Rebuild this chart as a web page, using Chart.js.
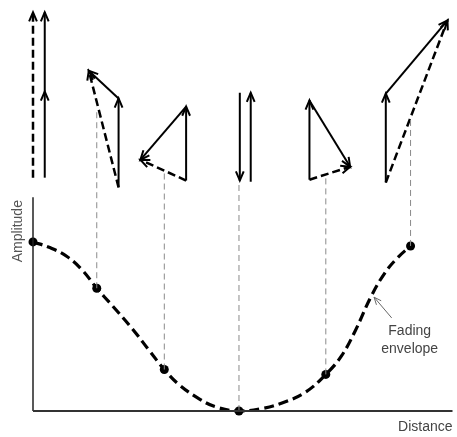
<!DOCTYPE html>
<html>
<head>
<meta charset="utf-8">
<script src="https://cdn.jsdelivr.net/npm/chart.js@4/dist/chart.umd.min.js"></script>
<style>
  html, body { margin: 0; padding: 0; background: #fff; }
  canvas { display: block; }
</style>
</head>
<body>
<canvas id="c" width="457" height="437"></canvas>
<script>
// ---- Fading envelope (distance vs amplitude, arbitrary units) ----
const curveX = [0, 4.0, 8.1, 11.8, 15.2, 19.0, 23.7, 27.7, 31.3, 34.8, 39.6, 43.6, 49.1, 54.5, 59.2, 64.9, 69.8, 73.5, 76.8, 80.6, 83.9, 87.0, 90.0];
const curveY = [41.6, 40.2, 38.0, 34.6, 30.2, 25.8, 20.2, 14.9, 10.2, 6.5, 3.0, 1.0, 0, 0.6, 1.9, 4.6, 9.0, 13.5, 19.7, 28.2, 34.0, 37.8, 40.6];

// ---- Sample points on the envelope ----
const pointX = [0, 15.2, 31.3, 49.1, 69.8, 90.0];
const pointY = [41.6, 30.2, 10.2, 0, 9.0, 40.6];
const dropTop = [null, 74.0, 58.6, 56.7, 57.5, 72.0];

// ---- Phasor diagrams (one per sample point) ----
const firstX      = [2.8, 20.4, 36.5, 51.9, 65.9, 84.1];
const firstBaseY  = [57.4, 55.0, 56.7, 56.4, 56.9, 56.2];
const firstTipY   = [78.6, 76.9, 74.9, 78.3, 76.4, 78.1];
const secondStartX = [2.8, 20.4, 36.5, 49.3, 65.9, 84.1];
const secondTipX  = [2.8, 13.3, 25.6, 49.3, 75.6, 98.8];
const secondTipY  = [98.1, 83.7, 61.8, 56.7, 60.1, 96.1];
const resultStartX = [0, 20.4, 36.5, null, 65.9, 84.1];
const resultTipX   = [0, 13.3, 25.6, null, 75.6, 98.8];

// ---- Axes extent ----
const axisMaxX = 100;
const axisMaxY = 52.6;

// ---- Text ----
const xTitle = 'Distance';
const yTitle = 'Amplitude';
const noteLines = ['Fading', 'envelope'];
const notePos = [89.8, 19.7];
const noteArrowFrom = [85.5, 22.9];
const noteArrowTo = [81.3, 28.0];

const datasets = [];
// axes as lines
datasets.push({ data: [{x:0,y:0},{x:axisMaxX,y:0}], showLine:true, borderColor:'#333', borderWidth:2, pointRadius:0 });
datasets.push({ data: [{x:0,y:0},{x:0,y:axisMaxY}], showLine:true, borderColor:'#222', borderWidth:1.5, pointRadius:0 });
// drop lines
pointX.forEach((px, i) => {
  if (dropTop[i] === null) return;
  datasets.push({ data: [{x:px,y:pointY[i]},{x:px,y:dropTop[i]}], showLine:true, borderColor:'#8a8a8a', borderWidth:1, borderDash:[6,4], pointRadius:0 });
});
// envelope curve
datasets.push({ data: curveX.map((x,i)=>({x, y:curveY[i]})), showLine:true, borderColor:'#000', borderWidth:3.2, borderDash:[10,5], pointRadius:0, tension:0.4 });
// sample points
datasets.push({ data: pointX.map((x,i)=>({x, y:pointY[i]})), showLine:false, pointRadius:4.5, pointBackgroundColor:'#000', pointBorderColor:'#000', pointBorderWidth:0 });
// phasors
firstX.forEach((fx, i) => {
  datasets.push({ arrow:true, data: [{x:fx,y:firstBaseY[i]},{x:fx,y:firstTipY[i]}], showLine:true, borderColor:'#000', borderWidth:2, pointRadius:0 });
  datasets.push({ arrow:true, data: [{x:secondStartX[i],y:firstTipY[i]},{x:secondTipX[i],y:secondTipY[i]}], showLine:true, borderColor:'#000', borderWidth:2, pointRadius:0 });
  if (resultStartX[i] !== null) {
    datasets.push({ arrow:true, data: [{x:resultStartX[i],y:firstBaseY[i]},{x:resultTipX[i],y:secondTipY[i]}], showLine:true, borderColor:'#000', borderWidth:2.5, borderDash:[8,4], pointRadius:0 });
  }
});
// annotation arrow
datasets.push({ arrow:true, arrowColor:'#666', arrowWidth:1, data: [{x:noteArrowFrom[0],y:noteArrowFrom[1]},{x:noteArrowTo[0],y:noteArrowTo[1]}], showLine:true, borderColor:'#666', borderWidth:1, pointRadius:0 });

datasets.forEach(d => { d.clip = false; });

const arrowPlugin = {
  id: 'arrows',
  afterDatasetsDraw(chart) {
    const ctx = chart.ctx;
    chart.data.datasets.forEach((ds, i) => {
      if (!ds.arrow) return;
      const pts = chart.getDatasetMeta(i).data;
      const a = pts[pts.length - 2], b = pts[pts.length - 1];
      const ang = Math.atan2(b.y - a.y, b.x - a.x);
      const len = ds.arrowWidth ? 8 : 10, spread = 0.4;
      ctx.save();
      ctx.strokeStyle = ds.arrowColor || '#000';
      ctx.lineWidth = ds.arrowWidth || 2;
      ctx.setLineDash([]);
      ctx.beginPath();
      ctx.moveTo(b.x - len * Math.cos(ang - spread), b.y - len * Math.sin(ang - spread));
      ctx.lineTo(b.x, b.y);
      ctx.lineTo(b.x - len * Math.cos(ang + spread), b.y - len * Math.sin(ang + spread));
      ctx.stroke();
      ctx.restore();
    });
  }
};

const textPlugin = {
  id: 'texts',
  afterDraw(chart) {
    const ctx = chart.ctx, xs = chart.scales.x, ys = chart.scales.y;
    ctx.save();
    ctx.font = '14px "Liberation Sans", Arial, sans-serif';
    ctx.fillStyle = '#444';
    // x title
    ctx.textAlign = 'right';
    ctx.textBaseline = 'middle';
    ctx.fillText(xTitle, xs.getPixelForValue(axisMaxX), ys.getPixelForValue(0) + 16);
    // y title
    ctx.save();
    ctx.translate(xs.getPixelForValue(0) - 15, ys.getPixelForValue(axisMaxY) + 34);
    ctx.rotate(-Math.PI / 2);
    ctx.textAlign = 'center';
    ctx.fillStyle = '#555';
    ctx.fillText(yTitle, 0, 0);
    ctx.restore();
    // note
    ctx.textAlign = 'center';
    ctx.fillStyle = '#444';
    const nx = xs.getPixelForValue(notePos[0]), ny = ys.getPixelForValue(notePos[1]);
    noteLines.forEach((t, k) => ctx.fillText(t, nx, ny + k * 18));
    ctx.restore();
  }
};

new Chart(document.getElementById('c'), {
  type: 'scatter',
  data: { datasets },
  options: {
    responsive: false,
    animation: false,
    layout: { padding: { left: 33, right: 2, top: 0, bottom: 26 } },
    plugins: { legend: { display: false }, tooltip: { enabled: false } },
    scales: {
      x: { type: 'linear', min: 0, max: 100, display: false },
      y: { type: 'linear', min: 0, max: 100, display: false }
    }
  },
  plugins: [arrowPlugin, textPlugin]
});
</script>
</body>
</html>
